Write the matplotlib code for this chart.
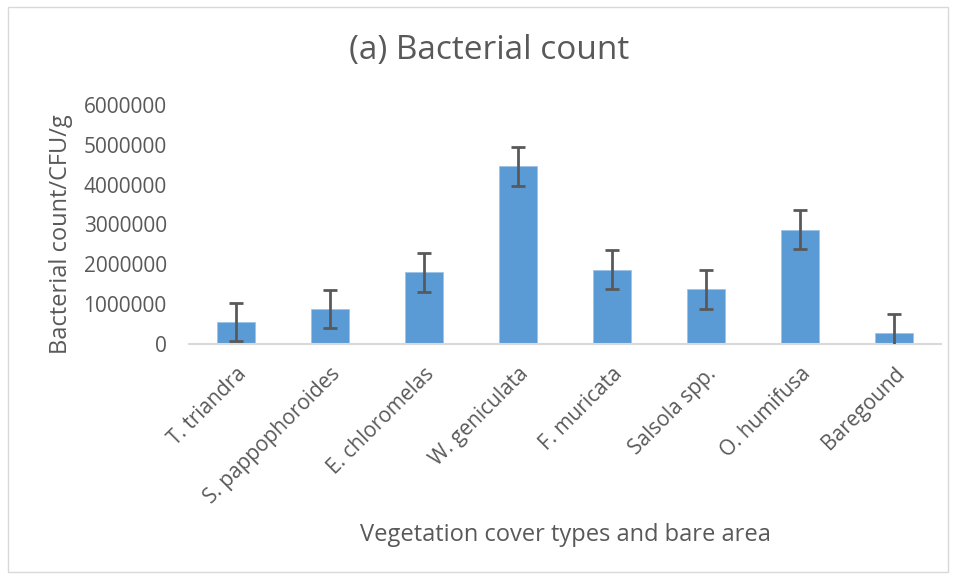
import matplotlib
matplotlib.use("Agg")
import matplotlib.pyplot as plt
from matplotlib.patches import Rectangle

# values
species = ["T. triandra", "S. pappophoroides", "E. chloromelas", "W. geniculata",
           "F. muricata", "Salsola spp.", "O. humifusa", "Baregound"]
counts = [550000, 880000, 1800000, 4460000, 1870000, 1370000, 2870000, 280000]
errors = [485000, 485000, 485000, 485000, 485000, 485000, 485000, 485000]
yticks = [0, 1000000, 2000000, 3000000, 4000000, 5000000, 6000000]

text_col = "#595959"
plt.rcParams["font.family"] = ["Open Sans", "DejaVu Sans"]

fig = plt.figure(figsize=(9.56, 5.79), dpi=100)
ax = fig.add_axes([189 / 956, 1 - 344 / 579, 752 / 956, (344 - 105) / 579])

x = range(len(species))
ax.bar(x, counts, width=0.4, color="#5B9BD5", edgecolor="#9DC3E6", linewidth=0.6, zorder=2)
ax.errorbar(x, counts, yerr=errors, fmt="none", ecolor="#595959", elinewidth=2,
            capsize=5, capthick=2, zorder=3)

ax.set_xlim(-0.5, len(species) - 0.5)
ax.set_ylim(0, 6000000)
ax.set_yticks(yticks)
ax.set_yticklabels([str(v) for v in yticks], fontsize=15, color=text_col)
ax.set_xticks(list(x))
ax.set_xticklabels(species, rotation=45, ha="right", rotation_mode="anchor",
                   fontsize=15, color=text_col)
ax.tick_params(axis="y", length=0, pad=16)
ax.tick_params(axis="x", length=0, pad=14)
for s in ["top", "right", "left"]:
    ax.spines[s].set_visible(False)
ax.spines["bottom"].set_color("#D9D9D9")
ax.spines["bottom"].set_linewidth(1.5)

fig.text(61 / 956, 1 - 234 / 579, "Bacterial count/CFU/g", fontsize=17, color=text_col,
         rotation=90, ha="center", va="center")
fig.text(565 / 956, 1 - 535 / 579, "Vegetation cover types and bare area", fontsize=17,
         color=text_col, ha="center", va="center")
fig.text(489 / 956, 1 - 50 / 579, "(a) Bacterial count", fontsize=24, color=text_col,
         ha="center", va="center")

# chart area border
fig.patches.append(Rectangle((8 / 956, 1 - 572 / 579), 940 / 956, 565 / 579,
                             transform=fig.transFigure, fill=False,
                             edgecolor="#D9D9D9", linewidth=1))

fig.savefig("out.png", dpi=100)
